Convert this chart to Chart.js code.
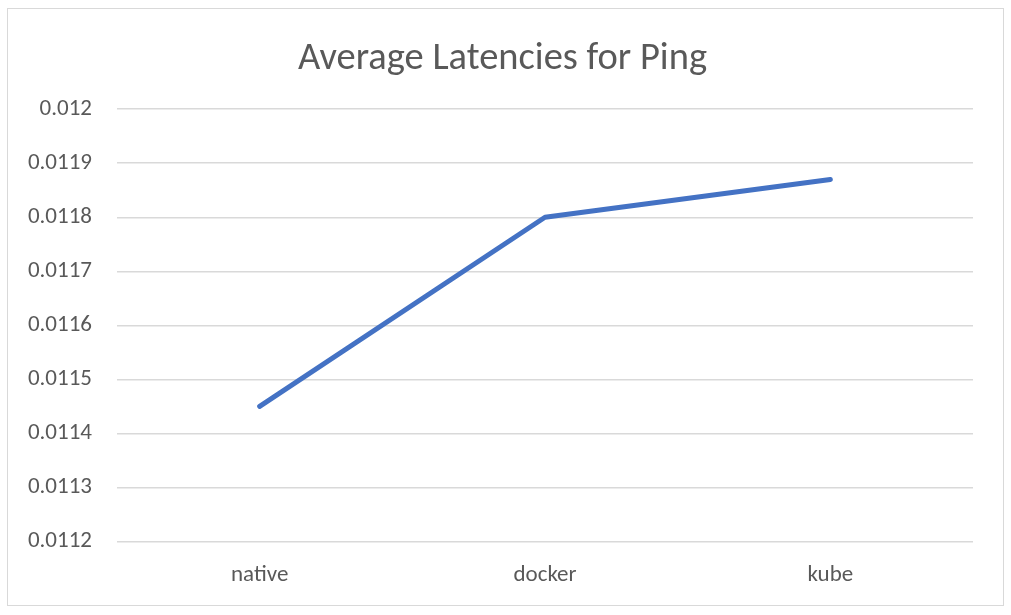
<!DOCTYPE html>
<html>
<head>
<meta charset="utf-8">
<script src="https://cdn.jsdelivr.net/npm/chart.js@4"></script>
<style>
  html, body { margin: 0; padding: 0; background: #fff; }
  #frame { position: absolute; left: 7px; top: 8px; width: 997px; height: 598px; border: 1px solid #d9d9d9; box-sizing: border-box; }
  #wrap { position: absolute; left: 0; top: 0; width: 1011px; height: 615px; }
</style>
</head>
<body>
<div id="frame"></div>
<div id="wrap"><canvas id="c" width="1011" height="615"></canvas></div>
<script>
const categories = ["native", "docker", "kube"];
const latencies = [0.01145, 0.0118, 0.01187];
const yMin = 0.0112;
const yMax = 0.012;
const yStep = 0.0001;
const chartTitle = "Average Latencies for Ping";

const FONT = "Carlito, Lato, 'Open Sans', sans-serif";
const TEXT = "#595959";

// Centre the title on the outer chart frame rather than on the padded box
const titleCentre = {
  id: "titleCentre",
  afterLayout(chart) {
    const t = chart.titleBlock;
    if (t) { t.left = 32; t.right = 973; }
  }
};

new Chart(document.getElementById("c"), {
  type: "line",
  data: {
    labels: categories,
    datasets: [{
      label: "Latency",
      data: latencies,
      borderColor: "#4472C4",
      borderWidth: 5,
      pointRadius: 0,
      pointHoverRadius: 0,
      tension: 0,
      fill: false,
      borderCapStyle: "round",
      borderJoinStyle: "round"
    }]
  },
  plugins: [titleCentre],
  options: {
    responsive: false,
    animation: false,
    devicePixelRatio: 1,
    layout: { padding: { left: 10, right: 38, top: 0, bottom: 6 } },
    plugins: {
      legend: { display: false },
      tooltip: { enabled: false },
      title: {
        display: true,
        text: chartTitle,
        color: TEXT,
        font: { family: FONT, size: 38.5, weight: "normal" },
        padding: { top: 36, bottom: 27 }
      }
    },
    scales: {
      x: {
        offset: true,
        grid: { display: false, drawTicks: false },
        border: { display: false },
        ticks: { color: TEXT, font: { family: FONT, size: 23 }, padding: 20 }
      },
      y: {
        min: yMin,
        max: yMax,
        ticks: {
          stepSize: yStep,
          color: TEXT,
          font: { family: FONT, size: 23 },
          padding: 25,
          callback: function (v) { return parseFloat(v.toFixed(5)).toString(); }
        },
        grid: { color: "#d9d9d9", lineWidth: 1.5, drawTicks: false },
        border: { display: false },
        afterFit: function (s) { s.width = 107; }
      }
    }
  }
});
</script>
</body>
</html>
